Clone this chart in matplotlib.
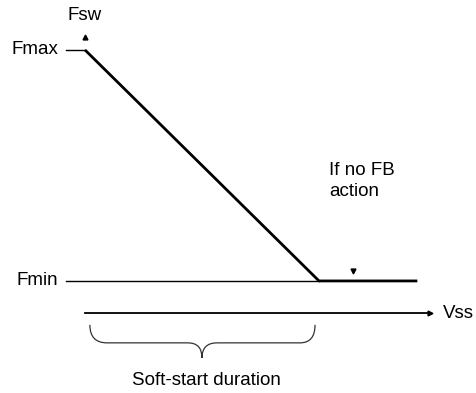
import matplotlib.pyplot as plt
from matplotlib.path import Path
from matplotlib.patches import PathPatch

plt.rcParams['font.family'] = ['Liberation Sans', 'DejaVu Sans']

# Frequency levels (normalised): Fmin = 0, Fmax = 1
freq_levels = [0.0, 1.0]
freq_labels = ['Fmin', 'Fmax']

# Soft-start ramp: Vss from start of ramp to end of soft-start, then clamped at Fmin
ramp_vss = [0.0, 1.0, 1.42]
ramp_freq = [1.0, 0.0, 0.0]

vss_axis_level = -0.139
vss_axis_end = 1.474
tick_start = -0.081

FS = 13.5

fig = plt.figure(figsize=(4.77, 3.93), dpi=100)
ax = fig.add_axes([0, 0, 1, 1])
ax.set_xlim(-0.363, 1.675)
ax.set_ylim(-0.485, 1.216)
ax.axis('off')

# frequency ramp (bold) and the level ticks
ax.plot(ramp_vss, ramp_freq, color='black', lw=2.0, solid_capstyle='butt')
ax.plot([tick_start, ramp_vss[1]], [freq_levels[0]] * 2, color='black', lw=1.0)
ax.plot([tick_start, ramp_vss[0]], [freq_levels[1]] * 2, color='black', lw=1.0)

for lvl, lab in zip(freq_levels, freq_labels):
    ax.text(-0.115, lvl, lab, ha='right', va='center', fontsize=FS)

# small arrow heads
ax.plot([0.0], [1.056], marker='^', color='black', markersize=3.5, lw=0)
ax.plot([1.145], [0.045], marker='v', color='black', markersize=3.5, lw=0)
ax.text(0.0, 1.15, 'Fsw', ha='center', va='center', fontsize=FS)

# Vss axis
ax.plot([0.0, vss_axis_end], [vss_axis_level] * 2, color='black', lw=1.3)
ax.plot([vss_axis_end], [vss_axis_level], marker='>', color='black', markersize=3.5, lw=0)
ax.text(1.53, vss_axis_level, 'Vss', ha='left', va='center', fontsize=FS)

ax.text(1.043, 0.433, 'If no FB\naction', ha='left', va='center', fontsize=FS,
        linespacing=1.35)

# curly brace under the soft-start interval
x0, x1, xm = 0.021, 0.983, 0.5
y_top, y_bar, y_tip = -0.19, -0.268, -0.333
verts = [
    (x0, y_top), (x0, y_bar), (x0 + 0.073, y_bar),
    (xm - 0.06, y_bar),
    (xm, y_bar), (xm, y_tip),
    (xm, y_bar), (xm + 0.064, y_bar),
    (x1 - 0.064, y_bar),
    (x1, y_bar), (x1, y_top),
]
codes = [Path.MOVETO, Path.CURVE3, Path.CURVE3, Path.LINETO,
         Path.CURVE3, Path.CURVE3, Path.CURVE3, Path.CURVE3,
         Path.LINETO, Path.CURVE3, Path.CURVE3]
ax.add_patch(PathPatch(Path(verts, codes), facecolor='none', edgecolor='#333333', lw=0.9))

ax.text(0.521, -0.429, 'Soft-start duration', ha='center', va='center', fontsize=FS)

fig.savefig('out.png', dpi=100)
